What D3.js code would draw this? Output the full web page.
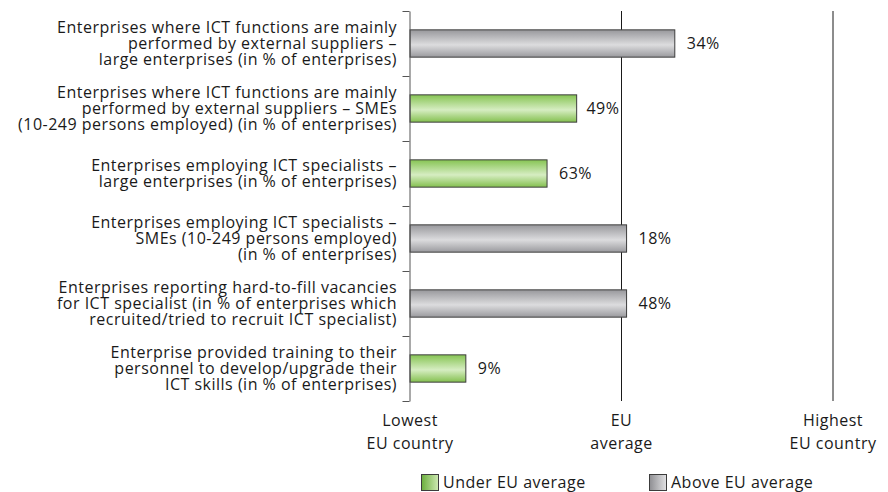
<!DOCTYPE html>
<html>
<head>
<meta charset="utf-8">
<script src="https://cdn.jsdelivr.net/npm/d3@7"></script>
<style>
  html, body { margin: 0; padding: 0; background: #fff; }
  svg { display: block; font-family: "Open Sans", "DejaVu Sans", sans-serif; letter-spacing: 0.5px; }
</style>
</head>
<body>
<svg id="chart" width="888" height="492"></svg>
<script>
// Indicator labels (one entry per line of text)
const indicators = [
  ["Enterprises where ICT functions are mainly", "performed by external suppliers –", "large enterprises (in % of enterprises)"],
  ["Enterprises where ICT functions are mainly", "performed by external suppliers – SMEs", "(10-249 persons employed) (in % of enterprises)"],
  ["Enterprises employing ICT specialists –", "large enterprises (in % of enterprises)"],
  ["Enterprises employing ICT specialists –", "SMEs (10-249 persons employed)", "(in % of enterprises)"],
  ["Enterprises reporting hard-to-fill vacancies", "for ICT specialist (in % of enterprises which", "recruited/tried to recruit ICT specialist)"],
  ["Enterprise provided training to their", "personnel to develop/upgrade their", "ICT skills (in % of enterprises)"]
];
// Country value for each indicator, in %
const shares = [34, 49, 63, 18, 48, 9];
// Relative position between lowest (0) and highest (100) EU country, EU average = 50
const positions = [62.6, 39.4, 32.4, 51.2, 51.2, 13.2];
// Reference points on the horizontal scale
const refValues = [0, 50, 100];
const refLabels = [["Lowest", "EU country"], ["EU", "average"], ["Highest", "EU country"]];
const legendLabels = ["Under EU average", "Above EU average"];

const svg = d3.select("#chart");
const margin = {left: 410, right: 55, top: 11, bottom: 91};
const W = 888, H = 492;
const FS = 16;

const x = d3.scaleLinear().domain([0, 100]).range([margin.left, W - margin.right]);
const y = d3.scaleBand().domain(d3.range(indicators.length)).range([margin.top, H - margin.bottom]).paddingInner(0).paddingOuter(0);
const barH = y.bandwidth() * 0.42;

// Gradients
const defs = svg.append("defs");
function vGrad(id, edge, mid, bottom) {
  const g = defs.append("linearGradient").attr("id", id).attr("x1", 0).attr("y1", 0).attr("x2", 0).attr("y2", 1);
  g.append("stop").attr("offset", "0%").attr("stop-color", edge);
  g.append("stop").attr("offset", "55%").attr("stop-color", mid);
  g.append("stop").attr("offset", "100%").attr("stop-color", bottom);
}
vGrad("gGreen", "#86c453", "#d6edc2", "#84c04f");
vGrad("gGrey", "#98989c", "#dcdcde", "#9a9a9e");
function hGrad(id, a, b) {
  const g = defs.append("linearGradient").attr("id", id).attr("x1", 0).attr("y1", 0).attr("x2", 1).attr("y2", 0);
  g.append("stop").attr("offset", "0%").attr("stop-color", a);
  g.append("stop").attr("offset", "100%").attr("stop-color", b);
}
hGrad("lGreen", "#6aae3c", "#cfe9b4");
hGrad("lGrey", "#8e8e92", "#e2e2e4");

const fillFor = p => p < 50 ? "url(#gGreen)" : "url(#gGrey)";

// Reference lines at EU average and highest country
svg.append("g").selectAll("line").data(refValues.slice(1)).join("line")
  .attr("x1", d => x(d)).attr("x2", d => x(d))
  .attr("y1", margin.top).attr("y2", H - margin.bottom)
  .attr("stroke", "#1a1a1a").attr("stroke-width", 1);

// Bars
svg.append("g").selectAll("rect").data(positions).join("rect")
  .attr("x", x(0))
  .attr("y", (d, i) => y(i) + (y.bandwidth() - barH) / 2)
  .attr("width", d => x(d) - x(0))
  .attr("height", barH)
  .attr("fill", d => fillFor(d))
  .attr("stroke", "#3c3c3c").attr("stroke-width", 1);

// Left axis with category boundaries
const yAxisScale = d3.scaleLinear().domain([0, indicators.length]).range([margin.top, H - margin.bottom]);
const yAxis = svg.append("g").attr("transform", `translate(${x(0) - 0.5},0)`)
  .call(d3.axisLeft(yAxisScale).tickValues(d3.range(indicators.length + 1)).tickSize(7).tickSizeOuter(0).tickFormat(""));
yAxis.selectAll("path, line").attr("stroke", "#555").attr("stroke-width", 1);

// Category labels
const labelG = svg.append("g").attr("font-size", FS).attr("fill", "#1a1a1a").attr("text-anchor", "end");
const lineH = 16;
indicators.forEach((lines, i) => {
  const cy = y(i) + y.bandwidth() / 2;
  const t = labelG.append("text").attr("x", 397).attr("y", cy - (lines.length - 1) * lineH / 2);
  lines.forEach((ln, j) => {
    t.append("tspan").attr("x", 397).attr("dy", j === 0 ? "0.35em" : lineH).text(ln);
  });
});

// Value labels
const valG = svg.append("g").attr("font-size", FS).attr("fill", "#1a1a1a");
valG.selectAll("text").data(positions).join("text")
  .attr("y", (d, i) => y(i) + y.bandwidth() / 2)
  .attr("dy", "0.35em")
  .text((d, i) => shares[i] + "%")
  .attr("x", function(d) {
    const w = this.getComputedTextLength();
    let px = x(d) + 12;
    const avg = x(50);
    if (px < avg && px + w > avg - 2) px = avg - 2 - w;
    return px;
  });

// Reference labels below the chart
const refG = svg.append("g").attr("font-size", FS).attr("fill", "#1a1a1a").attr("text-anchor", "middle");
refValues.forEach((v, i) => {
  refLabels[i].forEach((ln, j) => {
    refG.append("text").attr("x", x(v)).attr("y", 426 + j * 23).text(ln);
  });
});

// Legend
const legend = svg.append("g").attr("font-size", FS).attr("fill", "#1a1a1a");
const legendX = [421, 649];
legendLabels.forEach((lab, i) => {
  legend.append("rect").attr("x", legendX[i] + 0.5).attr("y", 474.5).attr("width", 17).attr("height", 16)
    .attr("fill", i === 0 ? "url(#lGreen)" : "url(#lGrey)").attr("stroke", "#3c3c3c").attr("stroke-width", 1);
  legend.append("text").attr("x", legendX[i] + 22).attr("y", 488).text(lab);
});
</script>
</body>
</html>
